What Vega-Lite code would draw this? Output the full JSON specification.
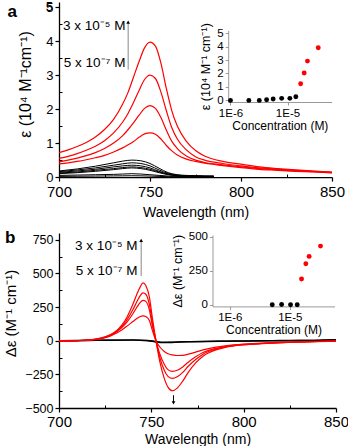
{
  "$schema": "https://vega.github.io/schema/vega-lite/v6.json",
  "padding": {"left": 3, "top": 1, "right": 0, "bottom": 0},
  "config": {
    "font": "Liberation Sans",
    "view": {"stroke": null},
    "axis": {"grid": false, "domainColor": "#000", "tickColor": "#000", "labelColor": "#000", "titleColor": "#000", "titleFontWeight": "normal", "tickSize": 4, "labelPadding": 2, "labelOverlap": false, "labelFlush": false, "labelBound": false, "domainWidth": 1.3, "tickWidth": 1.2}
  },
  "spacing": 8,
  "datasets": {
    "absRed": [
      {"wl":700,"R1":0.39,"R2":0.45,"R3":0.55,"R4":0.72},
      {"wl":705,"R1":0.42,"R2":0.5,"R3":0.61,"R4":0.8},
      {"wl":710,"R1":0.46,"R2":0.56,"R3":0.69,"R4":0.9},
      {"wl":715,"R1":0.51,"R2":0.63,"R3":0.79,"R4":1.02},
      {"wl":720,"R1":0.57,"R2":0.72,"R3":0.91,"R4":1.18},
      {"wl":725,"R1":0.64,"R2":0.84,"R3":1.07,"R4":1.4},
      {"wl":730,"R1":0.74,"R2":1.0,"R3":1.3,"R4":1.7},
      {"wl":735,"R1":0.86,"R2":1.22,"R3":1.62,"R4":2.15},
      {"wl":738,"R1":0.95,"R2":1.4,"R3":1.88,"R4":2.5},
      {"wl":741,"R1":1.05,"R2":1.6,"R3":2.2,"R4":2.95},
      {"wl":744,"R1":1.17,"R2":1.82,"R3":2.55,"R4":3.4},
      {"wl":747,"R1":1.27,"R2":2.02,"R3":2.87,"R4":3.8},
      {"wl":750,"R1":1.3,"R2":2.1,"R3":3.0,"R4":3.97},
      {"wl":753,"R1":1.26,"R2":2.02,"R3":2.9,"R4":3.85},
      {"wl":756,"R1":1.12,"R2":1.75,"R3":2.5,"R4":3.35},
      {"wl":759,"R1":0.93,"R2":1.38,"R3":1.95,"R4":2.6},
      {"wl":762,"R1":0.77,"R2":1.05,"R3":1.45,"R4":1.95},
      {"wl":765,"R1":0.65,"R2":0.84,"R3":1.12,"R4":1.5},
      {"wl":770,"R1":0.53,"R2":0.62,"R3":0.8,"R4":1.05},
      {"wl":775,"R1":0.46,"R2":0.5,"R3":0.6,"R4":0.78},
      {"wl":780,"R1":0.41,"R2":0.43,"R3":0.5,"R4":0.62},
      {"wl":790,"R1":0.34,"R2":0.36,"R3":0.4,"R4":0.46},
      {"wl":800,"R1":0.28,"R2":0.3,"R3":0.33,"R4":0.38},
      {"wl":810,"R1":0.23,"R2":0.25,"R3":0.27,"R4":0.3},
      {"wl":820,"R1":0.2,"R2":0.21,"R3":0.23,"R4":0.25},
      {"wl":830,"R1":0.17,"R2":0.18,"R3":0.2,"R4":0.21},
      {"wl":840,"R1":0.15,"R2":0.16,"R3":0.17,"R4":0.18},
      {"wl":850,"R1":0.12,"R2":0.13,"R3":0.14,"R4":0.15}
    ],
    "absBlack": [
      {"wl":700,"B1":0.18,"B2":0.16,"B3":0.14,"B4":0.12,"B5":0.1,"B6":0.05,"B7":0.02},
      {"wl":710,"B1":0.24,"B2":0.21,"B3":0.18,"B4":0.15,"B5":0.13,"B6":0.06,"B7":0.025},
      {"wl":720,"B1":0.32,"B2":0.27,"B3":0.23,"B4":0.2,"B5":0.17,"B6":0.07,"B7":0.03},
      {"wl":730,"B1":0.42,"B2":0.35,"B3":0.3,"B4":0.25,"B5":0.22,"B6":0.08,"B7":0.035},
      {"wl":735,"B1":0.47,"B2":0.39,"B3":0.33,"B4":0.28,"B5":0.25,"B6":0.09,"B7":0.037},
      {"wl":740,"B1":0.5,"B2":0.42,"B3":0.35,"B4":0.3,"B5":0.27,"B6":0.1,"B7":0.04},
      {"wl":745,"B1":0.48,"B2":0.4,"B3":0.33,"B4":0.28,"B5":0.25,"B6":0.09,"B7":0.037},
      {"wl":750,"B1":0.4,"B2":0.33,"B3":0.27,"B4":0.23,"B5":0.2,"B6":0.07,"B7":0.03},
      {"wl":755,"B1":0.26,"B2":0.21,"B3":0.17,"B4":0.15,"B5":0.13,"B6":0.05,"B7":0.02},
      {"wl":760,"B1":0.13,"B2":0.11,"B3":0.09,"B4":0.08,"B5":0.07,"B6":0.03,"B7":0.012},
      {"wl":765,"B1":0.07,"B2":0.06,"B3":0.05,"B4":0.04,"B5":0.04,"B6":0.02,"B7":0.01},
      {"wl":770,"B1":0.05,"B2":0.04,"B3":0.035,"B4":0.03,"B5":0.03,"B6":0.015,"B7":0.008},
      {"wl":775,"B1":0.04,"B2":0.035,"B3":0.03,"B4":0.025,"B5":0.02,"B6":0.01,"B7":0.006},
      {"wl":780,"B1":0.03,"B2":0.03,"B3":0.025,"B4":0.02,"B5":0.02,"B6":0.01,"B7":0.005},
      {"wl":785,"B1":0.03,"B2":0.03,"B3":0.02,"B4":0.02,"B5":0.015,"B6":0.01,"B7":0.005}
    ],
    "insetA": [
      {"c":1.0e-6,"e":0.0,"g":"low"},
      {"c":2.1e-6,"e":0.0,"g":"low"},
      {"c":3.2e-6,"e":0.0,"g":"low"},
      {"c":4.3e-6,"e":0.05,"g":"low"},
      {"c":5.6e-6,"e":0.1,"g":"low"},
      {"c":7.9e-6,"e":0.15,"g":"low"},
      {"c":1.1e-5,"e":0.15,"g":"low"},
      {"c":1.4e-5,"e":0.27,"g":"low"},
      {"c":1.7e-5,"e":1.24,"g":"high"},
      {"c":1.96e-5,"e":2.03,"g":"high"},
      {"c":2.24e-5,"e":2.92,"g":"high"},
      {"c":3.46e-5,"e":3.91,"g":"high"}
    ],
    "cdRed": [
      {"wl":700,"R1":-2,"R2":-2,"R3":-2,"R4":-2},
      {"wl":710,"R1":1,"R2":1,"R3":1,"R4":1},
      {"wl":715,"R1":3,"R2":3,"R3":4,"R4":4},
      {"wl":720,"R1":9,"R2":10,"R3":11,"R4":12},
      {"wl":725,"R1":22,"R2":25,"R3":27,"R4":28},
      {"wl":728,"R1":36,"R2":41,"R3":43,"R4":45},
      {"wl":731,"R1":55,"R2":65,"R3":68,"R4":72},
      {"wl":734,"R1":80,"R2":98,"R3":105,"R4":115},
      {"wl":737,"R1":110,"R2":142,"R3":160,"R4":180},
      {"wl":740,"R1":142,"R2":200,"R3":230,"R4":270},
      {"wl":742,"R1":163,"R2":245,"R3":285,"R4":340},
      {"wl":744,"R1":180,"R2":285,"R3":335,"R4":400},
      {"wl":745.5,"R1":185,"R2":300,"R3":355,"R4":430},
      {"wl":747,"R1":180,"R2":292,"R3":345,"R4":410},
      {"wl":749,"R1":148,"R2":225,"R3":265,"R4":320},
      {"wl":750.5,"R1":80,"R2":115,"R3":140,"R4":175},
      {"wl":752.5,"R1":0,"R2":0,"R3":0,"R4":0},
      {"wl":754.5,"R1":-45,"R2":-95,"R3":-120,"R4":-150},
      {"wl":757,"R1":-80,"R2":-175,"R3":-220,"R4":-280},
      {"wl":759,"R1":-97,"R2":-215,"R3":-265,"R4":-345},
      {"wl":761.5,"R1":-106,"R2":-228,"R3":-280,"R4":-372},
      {"wl":764,"R1":-110,"R2":-220,"R3":-268,"R4":-352},
      {"wl":767,"R1":-109,"R2":-195,"R3":-235,"R4":-300},
      {"wl":770,"R1":-100,"R2":-160,"R3":-190,"R4":-235},
      {"wl":774,"R1":-85,"R2":-120,"R3":-140,"R4":-165},
      {"wl":778,"R1":-68,"R2":-88,"R3":-100,"R4":-115},
      {"wl":785,"R1":-48,"R2":-57,"R3":-62,"R4":-68},
      {"wl":790,"R1":-38,"R2":-43,"R3":-46,"R4":-50},
      {"wl":800,"R1":-25,"R2":-28,"R3":-29,"R4":-31},
      {"wl":810,"R1":-18,"R2":-20,"R3":-21,"R4":-22},
      {"wl":820,"R1":-12,"R2":-14,"R3":-14,"R4":-15},
      {"wl":830,"R1":-8,"R2":-9,"R3":-9,"R4":-10},
      {"wl":840,"R1":-5,"R2":-6,"R3":-6,"R4":-7},
      {"wl":850,"R1":-3,"R2":-4,"R3":-4,"R4":-5}
    ],
    "cdBlack": [
      {"wl":700,"K1":0,"K2":-2},
      {"wl":720,"K1":3,"K2":2},
      {"wl":740,"K1":6,"K2":4},
      {"wl":748,"K1":2,"K2":0},
      {"wl":752,"K1":-6,"K2":-8},
      {"wl":756,"K1":-12,"K2":-14},
      {"wl":760,"K1":-12,"K2":-13},
      {"wl":765,"K1":-9,"K2":-10},
      {"wl":770,"K1":-7,"K2":-8},
      {"wl":780,"K1":-5,"K2":-6},
      {"wl":790,"K1":-3,"K2":-4},
      {"wl":800,"K1":-2,"K2":-3},
      {"wl":810,"K1":0,"K2":-1},
      {"wl":820,"K1":1,"K2":0},
      {"wl":830,"K1":2,"K2":1},
      {"wl":840,"K1":3,"K2":2},
      {"wl":845,"K1":6,"K2":3},
      {"wl":850,"K1":8,"K2":5}
    ],
    "insetB": [
      {"c":5.1e-6,"d":0,"g":"low"},
      {"c":7.3e-6,"d":2,"g":"low"},
      {"c":1.03e-5,"d":0,"g":"low"},
      {"c":1.33e-5,"d":0,"g":"low"},
      {"c":1.57e-5,"d":189,"g":"high"},
      {"c":1.85e-5,"d":301,"g":"high"},
      {"c":2.1e-5,"d":355,"g":"high"},
      {"c":3.25e-5,"d":431,"g":"high"}
    ]
  },
  "vconcat": [
    {
      "width": 273,
      "height": 175.1,
      "resolve": {"scale": {"x": "independent", "y": "independent"}, "axis": {"x": "independent", "y": "independent"}},
      "layer": [
        {
          "data": {"name": "absRed"},
          "transform": [{"fold": ["R1", "R2", "R3", "R4"], "as": ["series", "v"]}],
          "mark": {"type": "line", "color": "#ff0000", "strokeWidth": 1.2, "interpolate": "monotone"},
          "encoding": {
            "x": {"field": "wl", "type": "quantitative", "scale": {"domain": [700, 850], "nice": false, "zero": false},
                  "axis": {"orient": "bottom", "values": [700, 750, 800, 850], "tickCount": 4, "title": "Wavelength (nm)", "labelFontSize": 15, "titleFontSize": 14, "labelPadding": 3, "titlePadding": 6}},
            "y": {"field": "v", "type": "quantitative", "scale": {"domain": [0, 5.15], "nice": false, "zero": false},
                  "axis": {"orient": "left", "values": [0, 1, 2, 3, 4, 5], "tickCount": 6, "format": "d", "labelOverlap": false, "labelBound": false, "title": "ε (10⁴ M⁻¹cm⁻¹)", "labelFontSize": 13, "titleFontSize": 16, "titlePadding": 12, "titleY": 82}},
            "detail": {"field": "series", "type": "nominal"}
          }
        },
        {
          "data": {"name": "absBlack"},
          "transform": [{"fold": ["B1", "B2", "B3", "B4", "B5", "B6", "B7"], "as": ["series", "v"]}],
          "mark": {"type": "line", "color": "#000000", "strokeWidth": 1, "interpolate": "monotone"},
          "encoding": {
            "x": {"field": "wl", "type": "quantitative", "scale": {"domain": [700, 850], "nice": false, "zero": false},
                  "axis": {"orient": "bottom", "values": [725, 775, 825], "tickCount": 3, "labels": false, "domain": false, "title": null, "tickSize": -3, "tickWidth": 1}},
            "y": {"field": "v", "type": "quantitative", "scale": {"domain": [0, 5.15], "nice": false, "zero": false},
                  "axis": {"orient": "left", "values": [0.5, 1.5, 2.5, 3.5, 4.5], "tickCount": 5, "labels": false, "domain": false, "title": null, "tickSize": -3, "tickWidth": 1}},
            "detail": {"field": "series", "type": "nominal"}
          }
        },
        {
          "data": {"values": [{}]},
          "mark": {"type": "text", "text": "5", "align": "right", "baseline": "middle", "fontSize": 13, "color": "#000000"},
          "encoding": {
            "x": {"datum": 696.7, "type": "quantitative", "scale": {"domain": [700, 850], "nice": false, "zero": false}, "axis": null},
            "y": {"datum": 5, "type": "quantitative", "scale": {"domain": [0, 5.15], "nice": false, "zero": false}, "axis": null}
          }
        },
        {
          "data": {"values": [{}]},
          "mark": {"type": "rule", "color": "#888888", "strokeWidth": 1},
          "encoding": {
            "x": {"datum": 738, "type": "quantitative", "scale": {"domain": [700, 850], "nice": false, "zero": false}, "axis": null},
            "y": {"datum": 3.16, "type": "quantitative", "scale": {"domain": [0, 5.15], "nice": false, "zero": false}, "axis": null},
            "y2": {"datum": 4.55}
          }
        },
        {
          "data": {"values": [{}]},
          "mark": {"type": "point", "shape": "triangle-up", "filled": true, "color": "#000000", "size": 14, "opacity": 1},
          "encoding": {
            "x": {"datum": 738, "type": "quantitative", "scale": {"domain": [700, 850], "nice": false, "zero": false}, "axis": null},
            "y": {"datum": 4.56, "type": "quantitative", "scale": {"domain": [0, 5.15], "nice": false, "zero": false}, "axis": null}
          }
        },
        {
          "data": {"values": [{}]},
          "mark": {"type": "text", "text": "3 x 10⁻⁵ M", "align": "right", "baseline": "middle", "fontSize": 13.5, "color": "#000000"},
          "encoding": {
            "x": {"datum": 736.5, "type": "quantitative", "scale": {"domain": [700, 850], "nice": false, "zero": false}, "axis": null},
            "y": {"datum": 4.43, "type": "quantitative", "scale": {"domain": [0, 5.15], "nice": false, "zero": false}, "axis": null}
          }
        },
        {
          "data": {"values": [{}]},
          "mark": {"type": "text", "text": "5 x 10⁻⁷ M", "align": "right", "baseline": "middle", "fontSize": 13.5, "color": "#000000"},
          "encoding": {
            "x": {"datum": 736.5, "type": "quantitative", "scale": {"domain": [700, 850], "nice": false, "zero": false}, "axis": null},
            "y": {"datum": 3.35, "type": "quantitative", "scale": {"domain": [0, 5.15], "nice": false, "zero": false}, "axis": null}
          }
        },
        {
          "data": {"values": [{}]},
          "mark": {"type": "text", "text": "a", "align": "left", "baseline": "alphabetic", "fontSize": 17, "fontWeight": "bold", "color": "#000000"},
          "encoding": {
            "x": {"datum": 671.7, "type": "quantitative", "scale": {"domain": [700, 850], "nice": false, "zero": false}, "axis": null},
            "y": {"datum": 4.7, "type": "quantitative", "scale": {"domain": [0, 5.15], "nice": false, "zero": false}, "axis": null}
          }
        },
        {
          "data": {"name": "insetA"},
          "mark": {"type": "point", "filled": true, "size": 24, "opacity": 1},
          "encoding": {
            "x": {"field": "c", "type": "quantitative",
                  "scale": {"type": "log", "domain": [9.12e-7, 5.91e-5], "range": [169.2, 272.5], "nice": false},
                  "axis": {"orient": "bottom", "offset": -75.1, "values": [1e-6, 1e-5], "labelExpr": "'1E' + round(log(datum.value)/LN10)", "title": "Concentration (M)", "labelFontSize": 11.5, "titleFontSize": 12, "titlePadding": 2, "tickSize": 3, "domainColor": "#999999", "tickColor": "#999999", "domainWidth": 1, "tickWidth": 1}},
            "y": {"field": "e", "type": "quantitative",
                  "scale": {"domain": [-0.12, 5.2], "range": [100, 28.4], "nice": false, "zero": false},
                  "axis": {"orient": "left", "offset": -169.2, "values": [0, 1, 2, 3, 4, 5], "tickCount": 6, "format": "d", "title": "ε (10⁴ M⁻¹ cm⁻¹)", "labelFontSize": 11.5, "titleFontSize": 12.5, "titlePadding": 4, "tickSize": 3, "domainColor": "#999999", "tickColor": "#999999", "domainWidth": 1, "tickWidth": 1}},
            "color": {"field": "g", "type": "nominal", "scale": {"domain": ["low", "high"], "range": ["#000000", "#ff0000"]}, "legend": null}
          }
        }
      ]
    },
    {
      "width": 277,
      "height": 175,
      "resolve": {"scale": {"x": "independent", "y": "independent"}, "axis": {"x": "independent", "y": "independent"}},
      "layer": [
        {
          "data": {"name": "cdBlack"},
          "transform": [{"fold": ["K1", "K2"], "as": ["series", "v"]}],
          "mark": {"type": "line", "color": "#000000", "strokeWidth": 1.4, "interpolate": "monotone"},
          "encoding": {
            "x": {"field": "wl", "type": "quantitative", "scale": {"domain": [700, 850], "nice": false, "zero": false},
                  "axis": {"orient": "bottom", "values": [700, 750, 800, 850], "tickCount": 4, "title": "Wavelength (nm)", "labelFontSize": 15, "titleFontSize": 14, "titlePadding": 3}},
            "y": {"field": "v", "type": "quantitative", "scale": {"domain": [-500, 800], "nice": false, "zero": false},
                  "axis": {"orient": "left", "values": [-500, -250, 0, 250, 500, 750], "tickCount": 6, "format": "d", "title": "Δε (M⁻¹ cm⁻¹)", "labelFontSize": 12.5, "titleFontSize": 15, "titlePadding": 6, "titleY": 80}},
            "detail": {"field": "series", "type": "nominal"}
          }
        },
        {
          "data": {"name": "cdRed"},
          "transform": [{"fold": ["R1", "R2", "R3", "R4"], "as": ["series", "v"]}],
          "mark": {"type": "line", "color": "#ff0000", "strokeWidth": 1.2, "interpolate": "monotone"},
          "encoding": {
            "x": {"field": "wl", "type": "quantitative", "scale": {"domain": [700, 850], "nice": false, "zero": false},
                  "axis": {"orient": "bottom", "values": [725, 775, 825], "tickCount": 3, "labels": false, "domain": false, "title": null, "tickSize": -3, "tickWidth": 1}},
            "y": {"field": "v", "type": "quantitative", "scale": {"domain": [-500, 800], "nice": false, "zero": false},
                  "axis": {"orient": "left", "values": [-375, -125, 125, 375, 625], "tickCount": 5, "labels": false, "domain": false, "title": null, "tickSize": -3, "tickWidth": 1}},
            "detail": {"field": "series", "type": "nominal"}
          }
        },
        {
          "data": {"values": [{}]},
          "mark": {"type": "rule", "color": "#888888", "strokeWidth": 1},
          "encoding": {
            "x": {"datum": 744.5, "type": "quantitative", "scale": {"domain": [700, 850], "nice": false, "zero": false}, "axis": null},
            "y": {"datum": 480, "type": "quantitative", "scale": {"domain": [-500, 800], "nice": false, "zero": false}, "axis": null},
            "y2": {"datum": 740}
          }
        },
        {
          "data": {"values": [{}]},
          "mark": {"type": "point", "shape": "triangle-up", "filled": true, "color": "#000000", "size": 14, "opacity": 1},
          "encoding": {
            "x": {"datum": 744.5, "type": "quantitative", "scale": {"domain": [700, 850], "nice": false, "zero": false}, "axis": null},
            "y": {"datum": 745, "type": "quantitative", "scale": {"domain": [-500, 800], "nice": false, "zero": false}, "axis": null}
          }
        },
        {
          "data": {"values": [{}]},
          "mark": {"type": "rule", "color": "#000000", "strokeWidth": 1},
          "encoding": {
            "x": {"datum": 762, "type": "quantitative", "scale": {"domain": [700, 850], "nice": false, "zero": false}, "axis": null},
            "y": {"datum": -405, "type": "quantitative", "scale": {"domain": [-500, 800], "nice": false, "zero": false}, "axis": null},
            "y2": {"datum": -455}
          }
        },
        {
          "data": {"values": [{}]},
          "mark": {"type": "point", "shape": "triangle-down", "filled": true, "color": "#000000", "size": 14, "opacity": 1},
          "encoding": {
            "x": {"datum": 762, "type": "quantitative", "scale": {"domain": [700, 850], "nice": false, "zero": false}, "axis": null},
            "y": {"datum": -462, "type": "quantitative", "scale": {"domain": [-500, 800], "nice": false, "zero": false}, "axis": null}
          }
        },
        {
          "data": {"values": [{}]},
          "mark": {"type": "text", "text": "3 x 10⁻⁵ M", "align": "right", "baseline": "middle", "fontSize": 13.5, "color": "#000000"},
          "encoding": {
            "x": {"datum": 742.5, "type": "quantitative", "scale": {"domain": [700, 850], "nice": false, "zero": false}, "axis": null},
            "y": {"datum": 700, "type": "quantitative", "scale": {"domain": [-500, 800], "nice": false, "zero": false}, "axis": null}
          }
        },
        {
          "data": {"values": [{}]},
          "mark": {"type": "text", "text": "5 x 10⁻⁷ M", "align": "right", "baseline": "middle", "fontSize": 13.5, "color": "#000000"},
          "encoding": {
            "x": {"datum": 742.5, "type": "quantitative", "scale": {"domain": [700, 850], "nice": false, "zero": false}, "axis": null},
            "y": {"datum": 515, "type": "quantitative", "scale": {"domain": [-500, 800], "nice": false, "zero": false}, "axis": null}
          }
        },
        {
          "data": {"values": [{}]},
          "mark": {"type": "text", "text": "b", "align": "left", "baseline": "alphabetic", "fontSize": 17, "fontWeight": "bold", "color": "#000000"},
          "encoding": {
            "x": {"datum": 670.8, "type": "quantitative", "scale": {"domain": [700, 850], "nice": false, "zero": false}, "axis": null},
            "y": {"datum": 728, "type": "quantitative", "scale": {"domain": [-500, 800], "nice": false, "zero": false}, "axis": null}
          }
        },
        {
          "data": {"name": "insetB"},
          "mark": {"type": "point", "filled": true, "size": 24, "opacity": 1},
          "encoding": {
            "x": {"field": "c", "type": "quantitative",
                  "scale": {"type": "log", "domain": [5.15e-7, 5.56e-5], "range": [153.5, 275.5], "nice": false},
                  "axis": {"orient": "bottom", "offset": -101.6, "values": [1e-6, 1e-5], "labelExpr": "'1E' + round(log(datum.value)/LN10)", "title": "Concentration (M)", "labelFontSize": 11.5, "titleFontSize": 12, "titlePadding": 2, "tickSize": 3, "domainColor": "#999999", "tickColor": "#999999", "domainWidth": 1, "tickWidth": 1}},
            "y": {"field": "d", "type": "quantitative",
                  "scale": {"domain": [-12.5, 512.5], "range": [73.4, 2], "nice": false, "zero": false},
                  "axis": {"orient": "left", "offset": -153.5, "values": [0, 250, 500], "tickCount": 3, "format": "d", "title": "Δε (M⁻¹ cm⁻¹)", "labelFontSize": 11.5, "titleFontSize": 12.5, "titlePadding": 4, "tickSize": 3, "domainColor": "#999999", "tickColor": "#999999", "domainWidth": 1, "tickWidth": 1}},
            "color": {"field": "g", "type": "nominal", "scale": {"domain": ["low", "high"], "range": ["#000000", "#ff0000"]}, "legend": null}
          }
        }
      ]
    }
  ]
}
